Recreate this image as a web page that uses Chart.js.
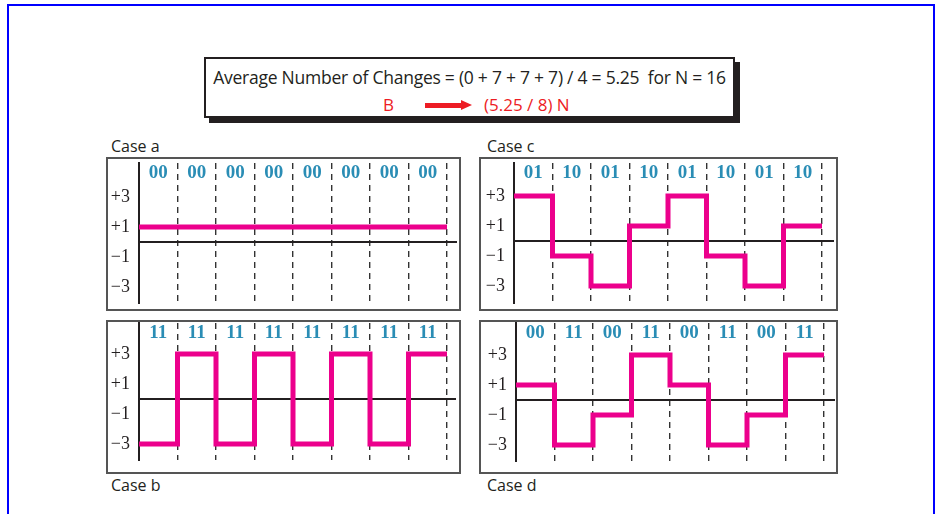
<!DOCTYPE html>
<html lang="en">
<head>
<meta charset="UTF-8">
<title>2B1Q - average number of changes</title>
<script src="https://cdn.jsdelivr.net/npm/chart.js@4.4.0/dist/chart.umd.min.js"></script>
<style>
  body { margin: 0; width: 936px; height: 514px; position: relative; overflow: hidden; background: #fff;
         font-family: "Open Sans", sans-serif; color: #231f20; }
  #frame { position: absolute; left: 7px; top: 4px; width: 928px; height: 540px; border: 2px solid #0000ff; box-sizing: border-box; }
  #titlebox { position: absolute; left: 204px; top: 57px; width: 531px; height: 61px; border: 2px solid #231f20;
              box-sizing: border-box; box-shadow: 5px 5px 0 #231f20; background: #fff; }
  .txt { position: absolute; font-size: 16px; line-height: 20px; white-space: pre; }
  .red { color: #ed1c24; font-size: 17px; }
  #line1 { left: 204px; width: 531px; top: 67px; text-align: center; font-size: 17.5px; letter-spacing: -0.25px; }
  #arrowbar { position: absolute; left: 425px; top: 103px; width: 37px; height: 5px; background: #ed1c24; }
  #arrowhead { position: absolute; left: 461px; top: 100px; width: 0; height: 0;
               border-left: 11px solid #ed1c24; border-top: 5.5px solid transparent; border-bottom: 5.5px solid transparent; }
  .panel { position: absolute; border: 2px solid #555; box-sizing: border-box; pointer-events: none; z-index: 2; }
  canvas.plot { position: absolute; z-index: 1; }
</style>
</head>
<body>
<div id="frame"></div>
<div id="titlebox"></div>
<div class="txt" id="line1"></div>
<div class="txt red" id="fromTxt" style="left:383px; top:95px;"></div>
<div id="arrowbar"></div><div id="arrowhead"></div>
<div class="txt red" id="toTxt" style="left:484px; top:95px;"></div>

<script>
// texts
const titleLine = 'Average Number of Changes = (0 + 7 + 7 + 7) / 4 = 5.25  for N = 16'
const fromLabel = 'B'
const toLabel = '(5.25 / 8) N'

// data
const caseNames = ['Case a', 'Case b', 'Case c', 'Case d']
const bitsA = ['00', '00', '00', '00', '00', '00', '00', '00']
const bitsB = ['11', '11', '11', '11', '11', '11', '11', '11']
const bitsC = ['01', '10', '01', '10', '01', '10', '01', '10']
const bitsD = ['00', '11', '00', '11', '00', '11', '00', '11']
const levelsA = [1, 1, 1, 1, 1, 1, 1, 1]
const levelsB = [-3, 3, -3, 3, -3, 3, -3, 3]
const levelsC = [3, -1, -3, 1, 3, -1, -3, 1]
const levelsD = [1, -3, -1, 3, 1, -3, -1, 3]
const yTickValues = [-3, -1, 1, 3]
const yTickLabels = ['\u22123', '\u22121', '+1', '+3']

document.getElementById('line1').textContent = titleLine
document.getElementById('fromTxt').textContent = fromLabel
document.getElementById('toTxt').textContent = toLabel

// layout of each panel (page pixels): box, axis x, last dashed x, right end, plot top/bottom, zero line y
const panels = [
  { name: caseNames[0], bits: bitsA, levels: levelsA, box: [106, 157, 355, 154], label: [111, 136],
    axisX: 139, endX: 447, rightX: 457, top: 163, bottom: 303, zeroY: 242 },
  { name: caseNames[1], bits: bitsB, levels: levelsB, box: [106, 320, 355, 154], label: [111, 475],
    axisX: 139, endX: 447, rightX: 456, top: 323, bottom: 460, zeroY: 399 },
  { name: caseNames[2], bits: bitsC, levels: levelsC, box: [479, 157, 359, 154], label: [487, 136],
    axisX: 514, endX: 822, rightX: 834, top: 163, bottom: 303, zeroY: 241 },
  { name: caseNames[3], bits: bitsD, levels: levelsD, box: [479, 320, 359, 154], label: [487, 475],
    axisX: 516, endX: 824, rightX: 835, top: 323, bottom: 461, zeroY: 400 }
]
const unitPx = 15
const extra = 30   // canvas overhang above/below the box so label padding never squeezes the plot

Chart.defaults.font.family = '"Liberation Serif", serif'
Chart.defaults.color = '#231f20'

const bitLabels = {
  id: 'bitLabels',
  afterDatasetsDraw(chart, args, opts) {
    const ctx = chart.ctx
    const xs = chart.scales.x
    ctx.save()
    ctx.font = 'bold 19px "Liberation Serif"'
    ctx.fillStyle = '#2a8db5'
    ctx.textAlign = 'center'
    ctx.textBaseline = 'middle'
    opts.labels.forEach((b, i) => {
      ctx.fillText(b, xs.getPixelForValue(i + 0.5), chart.chartArea.top + 10)
    })
    ctx.restore()
  }
}

panels.forEach(p => {
  const [bx, by, bw, bh] = p.box
  const box = document.createElement('div')
  box.className = 'panel'
  box.style.cssText = `left:${bx}px;top:${by}px;width:${bw}px;height:${bh}px;`

  const cLeft = bx + 2, cTop = by + 2 - extra, cRight = bx + bw - 2, cBottom = by + bh - 2 + extra
  const cv = document.createElement('canvas')
  cv.className = 'plot'
  cv.width = cRight - cLeft
  cv.height = cBottom - cTop
  cv.style.left = cLeft + 'px'
  cv.style.top = cTop + 'px'
  document.body.appendChild(cv)
  document.body.appendChild(box)

  const lab = document.createElement('div')
  lab.className = 'txt'
  lab.style.left = p.label[0] + 'px'
  lab.style.top = p.label[1] + 'px'
  lab.textContent = p.name
  document.body.appendChild(lab)

  const n = p.levels.length
  const pts = p.levels.map((v, i) => ({ x: i, y: v }))
  pts.push({ x: n, y: p.levels[n - 1] })

  new Chart(cv, {
    type: 'line',
    data: {
      datasets: [{
        data: pts,
        borderColor: '#ec008c',
        borderWidth: 5,
        stepped: true,
        pointRadius: 0,
        fill: false,
        borderCapStyle: 'butt',
        borderJoinStyle: 'miter'
      }]
    },
    options: {
      responsive: false,
      animation: false,
      devicePixelRatio: 1,
      layout: { padding: { left: 0, top: p.top - cTop, right: cRight - p.rightX, bottom: cBottom - p.bottom } },
      plugins: { legend: { display: false }, tooltip: { enabled: false }, bitLabels: { labels: p.bits } },
      scales: {
        x: {
          type: 'linear',
          min: 0,
          max: n * (p.rightX - p.axisX) / (p.endX - p.axisX),
          afterBuildTicks: s => { s.ticks = p.levels.map((_, i) => ({ value: i + 1 })) },
          afterFit: s => { s.height = 0 },
          ticks: { display: false },
          grid: { color: '#333', lineWidth: 1.4, drawTicks: false },
          border: { display: false, dash: [6, 5] }
        },
        y: {
          type: 'linear',
          min: -(p.bottom - p.zeroY) / unitPx,
          max: (p.zeroY - p.top) / unitPx,
          afterBuildTicks: s => { s.ticks = [-3, -1, 0, 1, 3].map(v => ({ value: v })) },
          afterFit: s => { s.width = p.axisX - cLeft },
          ticks: {
            padding: 9,
            font: { size: 18 },
            callback: v => { const k = yTickValues.indexOf(v); return k < 0 ? '' : yTickLabels[k] }
          },
          grid: {
            drawTicks: false,
            lineWidth: 2,
            color: c => (c.tick && c.tick.value === 0) ? '#231f20' : 'rgba(0,0,0,0)'
          },
          border: { display: true, color: '#231f20', width: 2 }
        }
      }
    },
    plugins: [bitLabels]
  })
})
</script>
</body>
</html>
